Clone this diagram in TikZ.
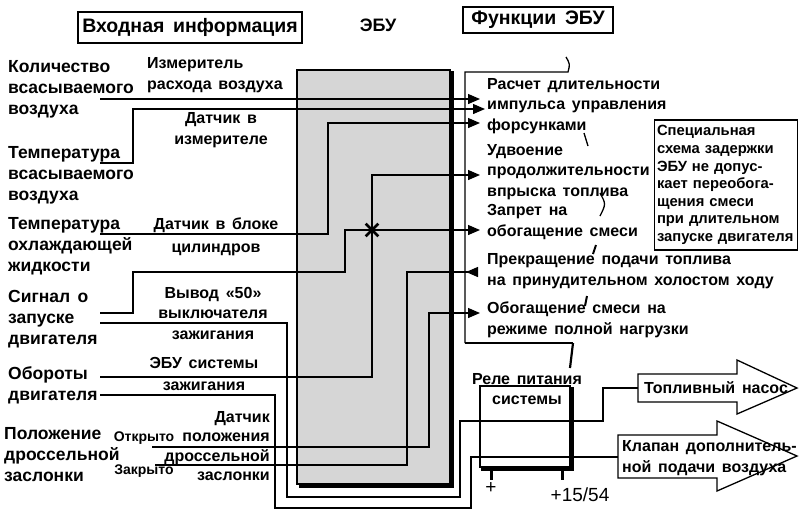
\documentclass[tikz,border=0pt]{standalone}
\usepackage{fontspec}
\setmainfont{Liberation Sans}
\usetikzlibrary{arrows.meta}
\newcommand\widesp[1]{\spaceskip=#1em plus 0.1em\relax}

\begin{document}
\begin{tikzpicture}[x=1pt, y=-1pt,
  every node/.style={inner sep=0pt},
  txt/.style={font=\bfseries\fontsize{16}{20.5}\selectfont\widesp{0.42}, align=left},
  lbl/.style={txt, anchor=west, font=\bfseries\fontsize{17.5}{21}\selectfont\widesp{0.42}},
  small/.style={font=\bfseries\fontsize{14}{17}\selectfont},
  hdr/.style={draw, line width=1.2pt, font=\bfseries\fontsize{19.5}{22}\selectfont\widesp{0.45}},
  note/.style={draw, line width=1.1pt, align=left, text width=138pt, inner xsep=2.5pt,
               minimum height=130pt, font=\bfseries\fontsize{14.8}{17.6}\selectfont},
  ecu/.style={draw, line width=1.6pt, fill=black!16, minimum width=153pt, minimum height=414pt},
  relaybox/.style={draw, line width=1.3pt, minimum width=90pt, minimum height=81pt},
  wire/.style={line width=1.3pt},
  heavy/.style={line width=3.2pt},
  arr/.style={wire, -{Triangle[length=12pt, width=10pt]}},
  rarr/.style={wire, -{Triangle[reversed, length=12pt, width=10pt]}}
]
  \useasboundingbox (0,0) rectangle (800,515);

  % headers
  \node[hdr, minimum width=224pt, minimum height=31pt] (inhdr) at (190,27.5) {Входная информация};
  \node[font=\bfseries\fontsize{18}{20}\selectfont] (ecuhdr) at (378,25) {ЭБУ};
  \node[hdr, minimum width=150pt, minimum height=26pt] (fnhdr) at (538,20) {Функции ЭБУ};

  % control unit
  \node[ecu] (ecu) at (373.5,277) {};
  \draw[heavy] ([xshift=3pt, yshift=-1.8pt]ecu.south west) -- ([xshift=1.8pt, yshift=-1.8pt]ecu.south east)
               -- ([xshift=1.8pt, yshift=-2pt]ecu.north east);

  % input signals
  \node[lbl] (qair)  at (8,89)  {Количество\\всасываемого\\воздуха};
  \node[lbl] (tair)  at (8,175) {Температура\\всасываемого\\воздуха};
  \node[lbl] (tcool) at (8,246) {Температура\\охлаждающей\\жидкости};
  \node[lbl] (crank) at (8,319) {Сигнал о\\запуске\\двигателя};
  \node[lbl] (rpm)   at (8,385) {Обороты\\двигателя};
  \node[lbl] (thr)   at (4,455) {Положение\\дроссельной\\заслонки};

  \node[txt, anchor=west]  (maf)   at (147,75)  {Измеритель\\расхода воздуха};
  \node[txt, align=center] (tsens) at (221,130) {Датчик в\\измерителе};
  \node[txt, align=center] (csens) at (216,237) {Датчик в блоке\\[2.5pt]цилиндров};
  \node[txt, align=center] (t50)   at (213,313) {Вывод «50»\\выключателя\\зажигания};
  \node[txt, align=center] (ign)   at (204,374) {ЭБУ системы\\[2pt]зажигания};
  \node[txt, align=right, anchor=east, font=\bfseries\fontsize{16}{19.5}\selectfont] (tps) at (270,446)
        {Датчик\\положения\\дроссельной\\заслонки};
  \node[small] (open)   at (144,438) {Открыто};
  \node[small] (closed) at (144,471) {Закрыто};

  % functions
  \node[txt, anchor=west] (fn1) at (487,106) {Расчет длительности\\импульса управления\\форсунками};
  \node[txt, anchor=west] (fn2) at (487,172) {Удвоение\\продолжительности\\впрыска топлива};
  \node[txt, anchor=west] (fn3) at (487,222) {Запрет на\\обогащение смеси};
  \node[txt, anchor=west] (fn4) at (487,271) {Прекращение подачи топлива\\на принудительном холостом ходу};
  \node[txt, anchor=west] (fn5) at (487,320) {Обогащение смеси на\\режиме полной нагрузки};
  \node[note] (delay) at (726,185)
        {Специальная\\схема задержки\\ЭБУ не допус-\\кает переобога-\\щения смеси\\при длительном\\запуске двигателя};

  \draw[wire] (566,57) .. controls (570,64) .. (568,72) -- (465,72) -- (465,343);
  \draw[heavy, line width=2.4pt] (465,343) -- (573,343);
  \draw[line width=2.2pt] (573,343) -- (570,368);
  \draw[wire] (584,133) -- (588,146);
  \draw[wire] (600,193) .. controls (606,204) .. (600,216);
  \draw[line width=2pt] (596,245) -- (593,254);
  \draw[line width=2pt] (587,296) -- (585,306);

  % relay and outputs
  \node[relaybox] (relay) at (525,426.5) {};
  \draw[heavy] ([xshift=2pt, yshift=-1.5pt]relay.south west) -- ([xshift=1.5pt, yshift=-1.5pt]relay.south east)
               -- ([xshift=1.5pt, yshift=-2pt]relay.north east);
  \draw[heavy] ([xshift=12pt]relay.south west) -- ++(0,12);
  \draw[heavy] ([xshift=-8pt]relay.south east) -- ++(0,12);
  \node[txt, align=center] (relaylbl) at (527,389) {Реле питания\\системы};
  \node[font=\fontsize{19}{20}\selectfont] (plus)  at (491,488) {+};
  \node[font=\fontsize{19}{20}\selectfont] (p1554) at (580,495) {+15/54};

  \draw[wire] (638,374) -- (737,374) -- (737,360) -- (797,388) -- (737,414) -- (737,402) -- (638,402) -- cycle;
  \node[txt] (pump) at (716,388) {Топливный насос};
  \draw[wire] (618,435) -- (717,435) -- (717,421) -- (797,456) -- (717,491) -- (717,478) -- (618,478) -- cycle;
  \node[txt, anchor=west] (valve) at (622,458) {Клапан дополнитель-\\ной подачи воздуха};

  % wire ends
  \coordinate (a1) at (100,99);
  \coordinate (a2) at (100,163);
  \coordinate (a3) at (100,234);
  \coordinate (a4) at (100,313);
  \coordinate (a5) at (100,323);
  \coordinate (a6) at (100,377);
  \coordinate (a7) at (100,395);
  \coordinate (a8) at (152,447);
  \coordinate (a9) at (155,465);
  \coordinate (r1) at (480,99);
  \coordinate (r2) at (485,109);
  \coordinate (r3) at (480,123);
  \coordinate (r4) at (480,175);
  \coordinate (r5) at (480,230);
  \coordinate (r6) at (478,272);
  \coordinate (r7) at (480,313);
  \coordinate (pumpin)  at (638,388);
  \coordinate (valvein) at (618,457);
  \coordinate (star) at (372,230);

  \draw[arr] (a1) -- (r1);
  \draw[arr] (a2) -- (133,163) |- (r2);
  \draw[arr] (a3) -- (328,234) |- (r3);
  \draw[wire] (a4) -- (133,313) |- (345,272) |- (star);
  \draw[wire] (a6) -| (star);
  \draw[arr] (star) |- (r4);
  \draw[arr] (star) -- (r5);
  \draw[wire] (a5) -| (287,497) -| (460,421) -- (603,421) |- (pumpin);
  \draw[wire] (a7) -| (275,508) -| (471,457) -- (valvein);
  \draw[arr] (a8) -| (429,313) -- (r7);
  \draw[rarr] (a9) -| (407,272) -- (r6);

  \foreach \a in {0,45,...,315}
    \draw[line width=2.6pt] (star) -- ++(\a:9);
\end{tikzpicture}
\end{document}
